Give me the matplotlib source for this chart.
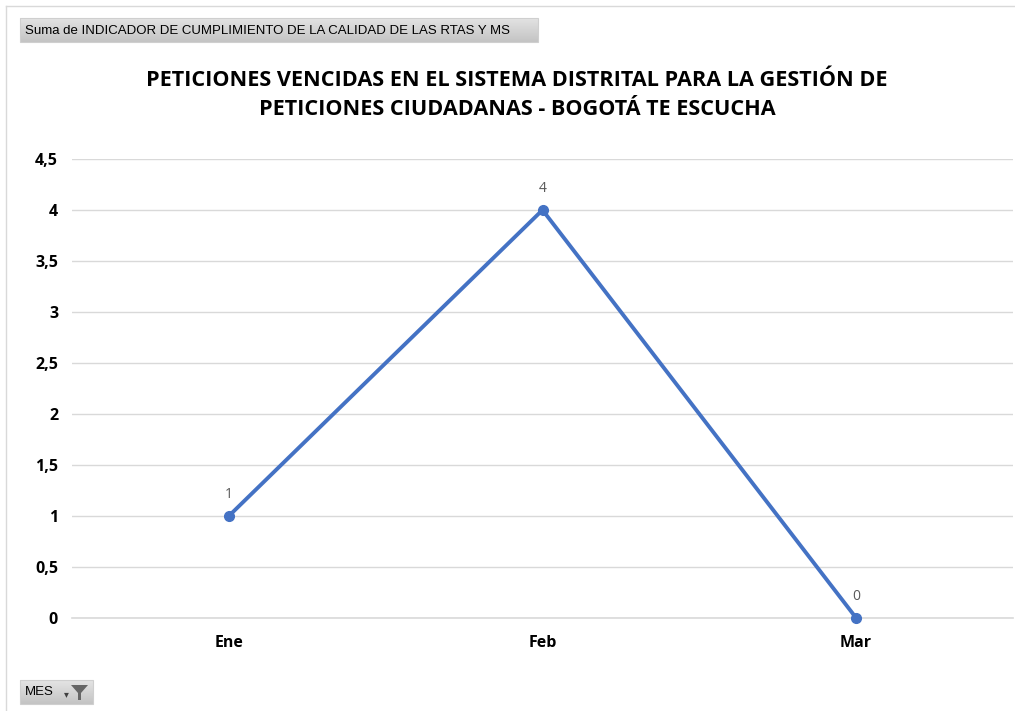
import numpy as np
import matplotlib.pyplot as plt
from matplotlib.patches import Rectangle
from matplotlib.colors import LinearSegmentedColormap

meses = ["Ene", "Feb", "Mar"]
valores = [1, 4, 0]
yticks = [0, 0.5, 1, 1.5, 2, 2.5, 3, 3.5, 4, 4.5]
ylabels = ["0", "0,5", "1", "1,5", "2", "2,5", "3", "3,5", "4", "4,5"]

titulo = ("PETICIONES VENCIDAS EN EL SISTEMA DISTRITAL PARA LA GESTIÓN DE\n"
          "PETICIONES CIUDADANAS - BOGOTÁ TE ESCUCHA")
campo = "Suma de INDICADOR DE CUMPLIMIENTO DE LA CALIDAD DE LAS RTAS Y MS"

plt.rcParams['font.family'] = ['Open Sans', 'DejaVu Sans']

W, H = 1015, 711
fig = plt.figure(figsize=(W / 100, H / 100), dpi=100)
ax = fig.add_axes([72 / W, 1 - 618 / H, (1013 - 72) / W, (618 - 159) / H])

x = np.arange(len(meses))
ax.plot(x, valores, color='#4472C4', linewidth=2.8, marker='o', markersize=7,
        solid_capstyle='round', zorder=3, clip_on=False)
for xi, v in zip(x, valores):
    ax.annotate(str(v), (xi, v), xytext=(0, 10), textcoords='offset points',
                ha='center', va='bottom', fontsize=10, color='#595959')

ax.set_xlim(-0.5, 2.5)
ax.set_ylim(0, 4.5)
ax.set_xticks(x)
ax.set_xticklabels(meses, fontsize=11.5, fontweight='bold')
ax.set_yticks(yticks)
ax.set_yticklabels(ylabels, fontsize=11.5, fontweight='bold')
ax.tick_params(length=0, pad=10)
ax.tick_params(axis='x', pad=12)
ax.grid(axis='y', color='#D9D9D9', linewidth=1)
ax.axhline(0, color='#D9D9D9', linewidth=1.2, clip_on=False, zorder=1)
ax.set_axisbelow(True)
for s in ax.spines.values():
    s.set_visible(False)

fig.text(517 / W, 1 - 95 / H, titulo, ha='center', va='center',
         fontsize=15.6, fontweight='bold', linespacing=1.5)

# borde del grafico
fig.add_artist(plt.Line2D([6 / W, 6 / W], [0, 1 - 6 / H], color='#D9D9D9', lw=1))
fig.add_artist(plt.Line2D([6 / W, 1], [1 - 6 / H, 1 - 6 / H], color='#D9D9D9', lw=1))

# botones de la tabla dinamica (degradado gris)
cmap_btn = LinearSegmentedColormap.from_list('btn', ['#E4E4E4', '#C4C4C4'])
grad = np.linspace(0, 1, 32).reshape(-1, 1)
for (bx, by, bw, bh) in [(20, 18, 518, 24), (20, 680, 73, 24)]:
    bax = fig.add_axes([bx / W, 1 - (by + bh) / H, bw / W, bh / H])
    bax.imshow(grad, aspect='auto', cmap=cmap_btn, extent=[0, 1, 0, 1], origin='upper')
    bax.set_axis_off()
    fig.add_artist(Rectangle((bx / W, 1 - (by + bh) / H), bw / W, bh / H,
                             transform=fig.transFigure, facecolor='none',
                             edgecolor='#CFCFCF', lw=0.8))

fig.text(25 / W, 1 - 31 / H, campo, fontsize=9.5, ha='left', va='center',
         family=['Liberation Sans Narrow', 'Liberation Sans', 'DejaVu Sans'])
fig.text(25 / W, 1 - 692 / H, "MES", fontsize=9.5, ha='left', va='center',
         family=['Liberation Sans Narrow', 'Liberation Sans', 'DejaVu Sans'])
fig.text(66 / W, 1 - 694 / H, "▾", fontsize=7, ha='center', va='center', color='#404040',
         family=['DejaVu Sans'])
fig.add_artist(plt.Polygon([[71 / W, 1 - 685 / H], [88 / W, 1 - 685 / H], [81 / W, 1 - 693 / H],
                            [81 / W, 1 - 700 / H], [78 / W, 1 - 700 / H], [78 / W, 1 - 693 / H]],
                           closed=True, transform=fig.transFigure, facecolor='#666666', edgecolor='none'))

fig.savefig("out.png", dpi=100)
